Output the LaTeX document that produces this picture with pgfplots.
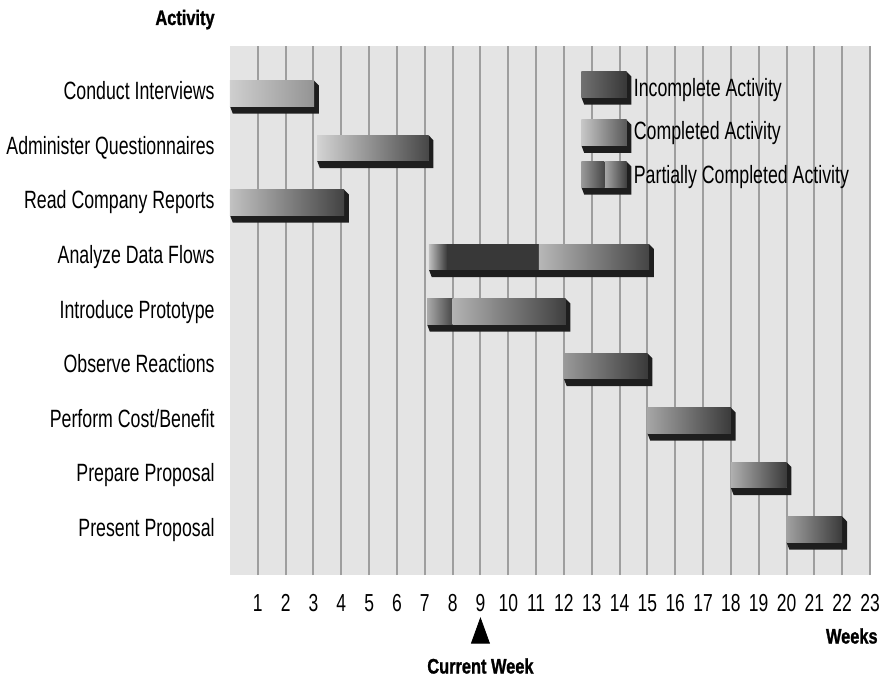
\documentclass[border=0pt]{standalone}
\usepackage{fontspec}
\setmainfont{Liberation Sans}[FakeStretch=0.71]
\newfontfamily\condbold{Liberation Sans}[FakeStretch=0.78, FakeBold=1.2]
\usepackage{pgfplots}
\pgfplotsset{compat=1.18}
\definecolor{bgc}{RGB}{228,228,228}
\definecolor{gridc}{RGB}{158,158,158}
\definecolor{shadowc}{RGB}{30,30,30}

% 3D bar helpers: row (y value), start week, end week
\newcommand\barshadow[3]{%
  \pgfmathsetmacro\yb{#1-0.28}%
  \pgfmathsetmacro\ys{#1-0.415}%
  \pgfmathsetmacro\ytt{#1+0.10}%
  \pgfmathsetmacro\yt{#1+0.19}%
  \pgfmathsetmacro\xl{#2+0.1}%
  \pgfmathsetmacro\xr{#3+0.175}%
  \edef\tmp{\noexpand\addplot[fill=shadowc, draw=none, forget plot] coordinates {(#2,\yb) (\xl,\ys) (\xr,\ys) (\xr,\ytt) (#3,\yt) (#3,\yb)} -- cycle;}%
  \tmp}
\newcommand\barface[5]{%
  \pgfmathsetmacro\yb{#1-0.28}%
  \pgfmathsetmacro\yt{#1+0.19}%
  \edef\tmp{\noexpand\addplot[left color=#4, right color=#5, draw=none, forget plot] coordinates {(#2,\yt) (#3,\yt) (#3,\yb) (#2,\yb)} -- cycle;}%
  \tmp}

\begin{document}
\begin{tikzpicture}
\useasboundingbox (-115pt,-56pt) rectangle (328pt,287.5pt);
\begin{axis}[
  at={(0,0)}, anchor=south west,
  scale only axis, width=320pt, height=264.5pt,
  xmin=0, xmax=23, ymin=0.1193, ymax=9.8257,
  clip=false,
  axis background/.style={fill=bgc},
  axis line style={draw=none},
  tick style={draw=none},
  xmajorgrids, major grid style={color=gridc, line width=1pt},
  xtick={1,...,23},
  ytick={1,...,9},
  yticklabels={Present Proposal,Prepare Proposal,Perform Cost/Benefit,Observe Reactions,Introduce Prototype,Analyze Data Flows,Read Company Reports,Administer Questionnaires,Conduct Interviews},
  /pgf/number format/assume math mode=true,
  xticklabel style={font=\fontsize{12.3}{14}\selectfont, anchor=base, inner sep=0pt, yshift=-18.25pt},
  yticklabel style={font=\fontsize{12.5}{15}\selectfont, anchor=base east, inner sep=0pt, xshift=-7.5pt, yshift=-4.5pt},
  xlabel={Weeks}, ylabel={Activity},
  every axis x label/.style={at={(axis description cs:1,0)}, anchor=base east, inner sep=0pt, xshift=4pt, yshift=-34.25pt, font=\condbold\bfseries\fontsize{10.5}{12}\selectfont},
  every axis y label/.style={at={(axis description cs:0,1)}, anchor=base east, inner sep=0pt, xshift=-7.5pt, yshift=10.5pt, font=\condbold\bfseries\fontsize{10.5}{12}\selectfont},
]
% Conduct Interviews (completed)
\barshadow{9}{0}{3.02}
\barface{9}{0}{3.02}{black!19}{black!42}
% Administer Questionnaires (completed)
\barshadow{8}{3.13}{7.13}
\barface{8}{3.13}{7.13}{black!17}{black!72}
% Read Company Reports (completed)
\barshadow{7}{0}{4.1}
\barface{7}{0}{4.1}{black!24}{black!74}
% Analyze Data Flows (partially completed)
\barshadow{6}{7.15}{15.06}
\barface{6}{7.15}{7.8}{black!25}{black!77}
\barface{6}{7.8}{11.1}{black!78}{black!78}
\barface{6}{11.1}{15.06}{black!28}{black!73}
% Introduce Prototype (partially completed)
\barshadow{5}{7.08}{12.06}
\barface{5}{7.08}{8.0}{black!33}{black!72}
\barface{5}{8.0}{12.06}{black!30}{black!75}
% Observe Reactions
\barshadow{4}{12.0}{15.0}
\barface{4}{12.0}{15.0}{black!40}{black!77}
% Perform Cost/Benefit
\barshadow{3}{15.0}{18.0}
\barface{3}{15.0}{18.0}{black!35}{black!77}
% Prepare Proposal
\barshadow{2}{18.0}{20.0}
\barface{2}{18.0}{20.0}{black!31}{black!77}
% Present Proposal
\barshadow{1}{20.0}{22.0}
\barface{1}{20.0}{22.0}{black!37}{black!77}
% Legend icons
\barshadow{9.164}{12.63}{14.25}
\barface{9.164}{12.63}{14.25}{black!56}{black!78}
\barshadow{8.278}{12.63}{14.25}
\barface{8.278}{12.63}{14.25}{black!22}{black!65}
\barshadow{7.513}{12.63}{14.25}
\barface{7.513}{12.63}{13.45}{black!40}{black!72}
\barface{7.513}{13.48}{14.25}{black!35}{black!75}
\node[anchor=base west, inner sep=0pt, font=\fontsize{12.5}{15}\selectfont] at (axis cs:14.5,8.89) {Incomplete Activity};
\node[anchor=base west, inner sep=0pt, font=\fontsize{12.5}{15}\selectfont] at (axis cs:14.5,8.101) {Completed Activity};
\node[anchor=base west, inner sep=0pt, font=\fontsize{12.5}{15}\selectfont] at (axis cs:14.5,7.294) {Partially Completed Activity};
% Current week marker
\addplot[only marks, mark=triangle*, mark size=5.2pt, mark options={fill=black, draw=black, yscale=1.6}] coordinates {(9,-0.98)};
\node[anchor=base, inner sep=0pt, font=\condbold\bfseries\fontsize{10.5}{12}\selectfont] at (axis cs:9,-1.688) {Current Week};
\end{axis}
\end{tikzpicture}
\end{document}
